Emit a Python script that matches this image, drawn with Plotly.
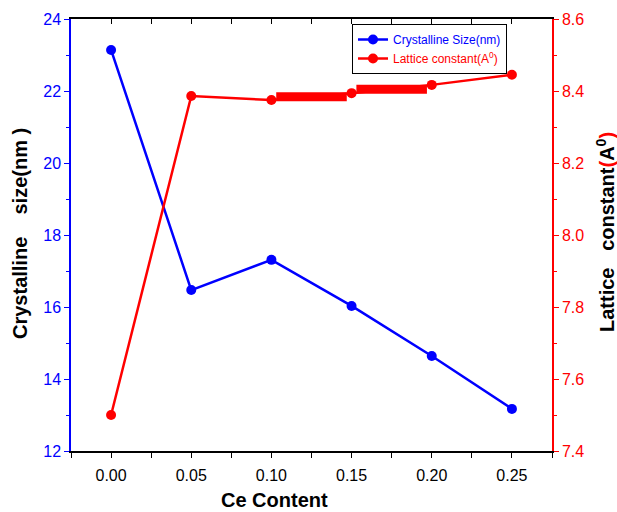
import plotly.graph_objects as go

ce_content = [0.00, 0.05, 0.10, 0.15, 0.20, 0.25]
crystalline_size = [23.14, 16.47, 17.31, 16.03, 14.64, 13.17]
lattice_constant = [7.50, 8.386, 8.375, 8.394, 8.417, 8.445]

# thick red bars seen over the lattice-constant line
bar_x = [0.103, 0.147, None, 0.153, 0.197]
bar_y = [8.384, 8.384, None, 8.405, 8.405]

x_ticks = [0, 0.05, 0.10, 0.15, 0.20, 0.25]
x_ticktext = ["0.00", "0.05", "0.10", "0.15", "0.20", "0.25"]

FONT = "Liberation Sans, Arial, sans-serif"

fig = go.Figure()
fig.add_trace(go.Scatter(
    x=ce_content, y=crystalline_size, mode="lines+markers",
    name='<span style="color:#0000ff">Crystalline Size(nm)</span>',
    line=dict(color="#0000ff", width=2.5), marker=dict(color="#0000ff", size=10),
    xaxis="x", yaxis="y"))
fig.add_trace(go.Scatter(
    x=ce_content, y=lattice_constant, mode="lines+markers",
    name='<span style="color:#ff0000">Lattice constant(A<sup>0</sup>)</span>',
    line=dict(color="#ff0000", width=2.5), marker=dict(color="#ff0000", size=10),
    xaxis="x", yaxis="y2"))
fig.add_trace(go.Scatter(
    x=bar_x, y=bar_y, mode="lines", showlegend=False, hoverinfo="skip",
    line=dict(color="#ff0000", width=9), xaxis="x", yaxis="y2"))
# dummy trace to activate the top axis
fig.add_trace(go.Scatter(x=[None], y=[None], xaxis="x3", yaxis="y",
                         showlegend=False, hoverinfo="skip"))

xr = [-0.025, 0.275]
fig.update_layout(
    width=617, height=512,
    margin=dict(l=71, r=65, t=19, b=61),
    paper_bgcolor="white", plot_bgcolor="white",
    font=dict(family=FONT, size=16, color="black"),
    showlegend=True,
    legend=dict(x=(352 - 71) / 481, y=(451 - 24) / 432, xanchor="left", yanchor="top",
                bordercolor="black", borderwidth=1, bgcolor="white",
                font=dict(size=12, family=FONT), tracegroupgap=0,
                itemwidth=30),
    xaxis=dict(range=xr, showgrid=False, zeroline=False,
               showline=True, linecolor="black", linewidth=1.5,
               ticks="outside", ticklen=5, tickwidth=1.2, tickcolor="black",
               tickvals=x_ticks, ticktext=x_ticktext, ticklabelstandoff=4,
               minor=dict(dtick=0.025, tick0=0, ticks="outside", ticklen=5, tickcolor="black"),
               tickfont=dict(size=16, color="black")),
    xaxis3=dict(range=xr, overlaying="x", side="top", showgrid=False, zeroline=False,
                showline=True, linecolor="black", linewidth=1.5,
                ticks="inside", ticklen=5, tickwidth=1.2, tickcolor="black",
                tick0=0, dtick=0.025, showticklabels=False),
    yaxis=dict(range=[12, 24], showgrid=False, zeroline=False,
               showline=True, linecolor="#0000ff", linewidth=1.5,
               ticks="outside", ticklen=5, tickwidth=1.2, tickcolor="#0000ff",
               tick0=12, dtick=2,
               minor=dict(dtick=1, ticks="outside", ticklen=3, tickcolor="#0000ff"),
               tickfont=dict(size=16, color="#0000ff")),
    yaxis2=dict(range=[7.4, 8.6], overlaying="y", side="right", anchor="x",
                showgrid=False, zeroline=False,
                showline=True, linecolor="#ff0000", linewidth=1.5,
                ticks="outside", ticklen=5, tickwidth=1.2, tickcolor="#ff0000",
                tick0=7.4, dtick=0.2, tickformat=".1f",
                minor=dict(dtick=0.1, ticks="outside", ticklen=3, tickcolor="#ff0000"),
                tickfont=dict(size=16, color="#ff0000")),
)

fig.add_annotation(text="<b>Ce Content</b>", xref="paper", yref="paper",
                   x=(274 - 71) / 481, y=(451 - 500) / 432, showarrow=False,
                   xanchor="center", yanchor="middle",
                   font=dict(size=20, family=FONT, color="black"))
fig.add_annotation(text="<b>Crystalline    size(nm )</b>", xref="paper", yref="paper",
                   x=(20 - 71) / 481, y=(451 - 234) / 432, showarrow=False, textangle=-90,
                   xanchor="center", yanchor="middle",
                   font=dict(size=20, family=FONT, color="black"))
fig.add_annotation(text='<b>Lattice   constant<span style="color:#ff0000">(</span>A<sup>0</sup><span style="color:#ff0000">)</span></b>',
                   xref="paper", yref="paper",
                   x=(605 - 71) / 481, y=(451 - 232) / 432, showarrow=False, textangle=-90,
                   xanchor="center", yanchor="middle",
                   font=dict(size=20, family=FONT, color="black"))

fig.write_html("out.html", config={"displayModeBar": False},
               post_script="document.body.style.margin='0px';document.body.style.overflow='hidden';")
